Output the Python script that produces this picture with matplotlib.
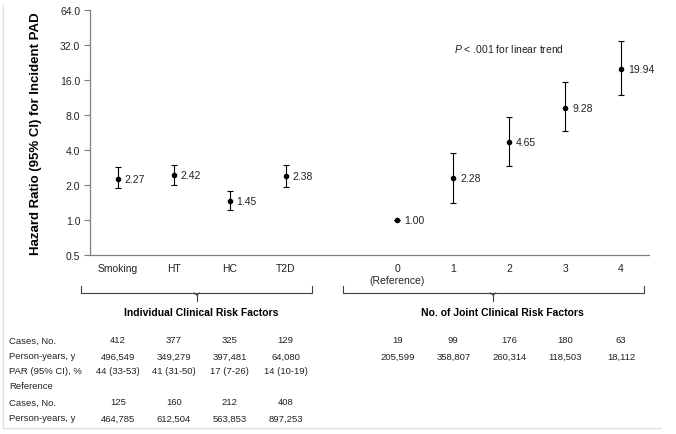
import matplotlib
matplotlib.use("Agg")
import matplotlib.pyplot as plt
from matplotlib.transforms import blended_transform_factory
from matplotlib.lines import Line2D

plt.rcParams['font.family'] = ['Liberation Sans', 'DejaVu Sans']
plt.rcParams['mathtext.fontset'] = 'custom'
plt.rcParams['mathtext.it'] = 'Liberation Sans:italic'
plt.rcParams['mathtext.rm'] = 'Liberation Sans'

# ---- data ----
indiv_labels = ["Smoking", "HT", "HC", "T2D"]
indiv_hr = [2.27, 2.42, 1.45, 2.38]
indiv_lo = [1.87, 2.00, 1.21, 1.93]
indiv_hi = [2.84, 2.99, 1.76, 2.99]

joint_labels = ["0\n(Reference)", "1", "2", "3", "4"]
joint_hr = [1.00, 2.28, 4.65, 9.28, 19.94]
joint_lo = [1.00, 1.40, 2.91, 5.79, 11.8]
joint_hi = [1.00, 3.79, 7.64, 15.4, 34.9]

y_ticks = [0.5, 1.0, 2.0, 4.0, 8.0, 16.0, 32.0, 64.0]

row_labels = ["Cases, No.", "Person-years, y", "PAR (95% CI), %", "Reference",
              "Cases, No.", "Person-years, y"]
indiv_cases = ["412", "377", "325", "129"]
indiv_py = ["496,549", "349,279", "397,481", "64,080"]
indiv_par = ["44 (33-53)", "41 (31-50)", "17 (7-26)", "14 (10-19)"]
ref_cases = ["125", "160", "212", "408"]
ref_py = ["464,785", "612,504", "563,853", "897,253"]
joint_cases = ["19", "99", "176", "180", "63"]
joint_py = ["205,599", "358,807", "260,314", "118,503", "18,112"]

# ---- layout ----
W, H = 676, 435
fig = plt.figure(figsize=(W / 100, H / 100), dpi=100)
ax = fig.add_axes([90 / W, 1 - 256 / H, (649 - 90) / W, (256 - 11) / H])

xi = [0.5, 1.5, 2.5, 3.5]
xj = [5.5, 6.5, 7.5, 8.5, 9.5]

ax.set_yscale('log', base=2)
ax.set_ylim(0.5, 64)
ax.set_xlim(0, 10)
ax.set_yticks(y_ticks)
ax.set_yticklabels([f"{v:.1f}" for v in y_ticks], fontsize=7.5, color='#222222')
ax.yaxis.set_minor_locator(matplotlib.ticker.NullLocator())
ax.set_xticks(xi + xj)
ax.set_xticklabels(indiv_labels + joint_labels, fontsize=7.5, color='#222222')
ax.tick_params(axis='x', length=0, pad=6)
ax.tick_params(axis='y', length=4, width=0.8, color='#808080', pad=3)
for s in ['top', 'right']:
    ax.spines[s].set_visible(False)
for s in ['left', 'bottom']:
    ax.spines[s].set_color('#808080')
    ax.spines[s].set_linewidth(0.9)

ax.set_ylabel("Hazard Ratio (95% CI) for Incident PAD", fontsize=9.5,
              fontweight='bold', labelpad=13)

def draw(xs, hr, lo, hi):
    yerr = [[h - l for h, l in zip(hr, lo)], [u - h for h, u in zip(hr, hi)]]
    ax.errorbar(xs, hr, yerr=yerr, fmt='o', color='black', ms=3,
                elinewidth=0.8, capsize=2, capthick=0.8)
    for x, h in zip(xs, hr):
        ax.annotate(f"{h:.2f}", (x, h), xytext=(5, 0), textcoords='offset points',
                    va='center', ha='left', fontsize=7.5, color='#222222')

draw(xi, indiv_hr, indiv_lo, indiv_hi)
draw(xj, joint_hr, joint_lo, joint_hi)

ax.text(7.5, 30, r"$\it{P}$ < .001 for linear trend", ha='center', va='center',
        fontsize=7.5, color='#222222')

# ---- brackets and group titles ----
tr = blended_transform_factory(ax.transData, fig.transFigure)

def fy(px):
    return 1 - px / H

def bracket(x0, x1, xm):
    kw = dict(transform=tr, color='#404040', lw=0.8, clip_on=False)
    fig.add_artist(Line2D([x0, x0, x1, x1], [fy(287), fy(294), fy(294), fy(287)], **kw))
    fig.add_artist(Line2D([xm - 0.05, xm, xm + 0.05], [fy(294), fy(296), fy(294)], **kw))
    fig.add_artist(Line2D([xm, xm], [fy(296), fy(302)], **kw))

bracket(-0.16, 3.97, 1.91)
bracket(4.53, 9.91, 7.21)

fig.text(1.99, fy(313), "Individual Clinical Risk Factors", transform=tr,
         ha='center', va='center', fontsize=7.5, fontweight='bold')
fig.text(7.37, fy(313), "No. of Joint Clinical Risk Factors", transform=tr,
         ha='center', va='center', fontsize=7.5, fontweight='bold')

# ---- table ----
row_y = [341, 357, 372, 387, 403, 419]
for lab, y in zip(row_labels, row_y):
    fig.text(9 / W, fy(y), lab, ha='left', va='center', fontsize=6.8, color='#222222')

def row(xs, vals, y):
    for x, v in zip(xs, vals):
        fig.text(x, fy(y), v, transform=tr, ha='center', va='center', fontsize=6.8,
                 color='#222222')

row(xi, indiv_cases, row_y[0])
row(xi, indiv_py, row_y[1])
row(xi, indiv_par, row_y[2])
row(xi, ref_cases, row_y[4])
row(xi, ref_py, row_y[5])
row(xj, joint_cases, row_y[0])
row(xj, joint_py, row_y[1])

# ---- light frame ----
fig.add_artist(Line2D([2.5 / W, 2.5 / W], [fy(6), fy(429)], transform=fig.transFigure,
                      color='#e0e0e0', lw=1))
fig.add_artist(Line2D([2.5 / W, 660 / W], [fy(429), fy(429)], transform=fig.transFigure,
                      color='#e0e0e0', lw=1))

fig.savefig("out.png", dpi=100)
